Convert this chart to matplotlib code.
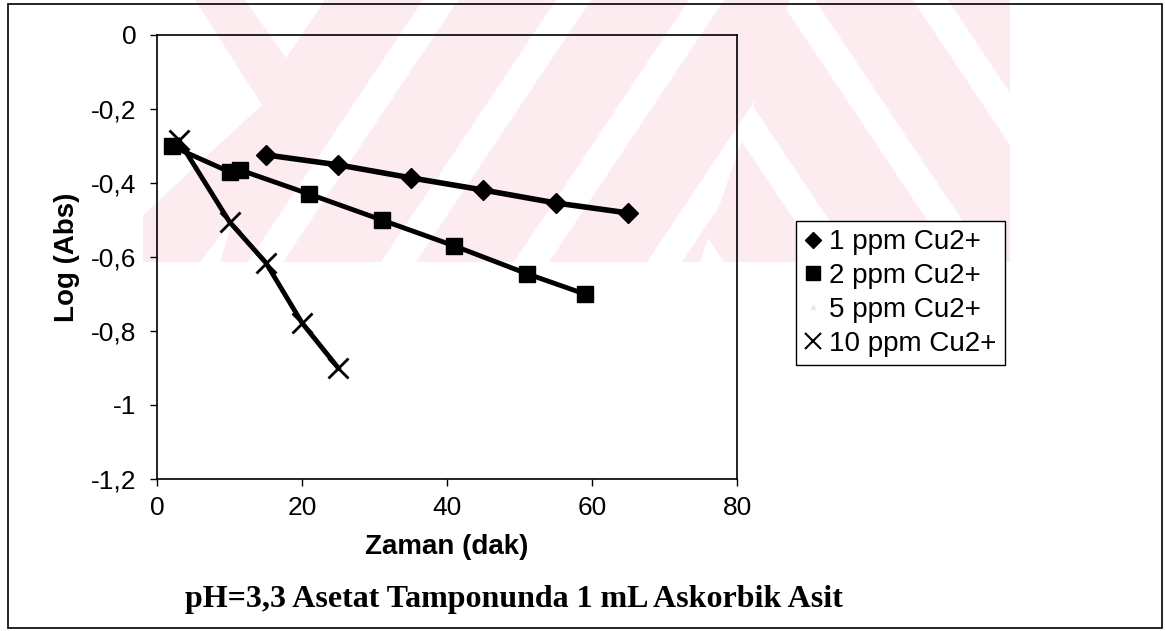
import matplotlib
matplotlib.use("Agg")
import matplotlib.pyplot as plt
from matplotlib.lines import Line2D
from matplotlib.patches import Rectangle, Polygon

# measured series (time in min, log absorbance)
t_1ppm = [15, 25, 35, 45, 55, 65]
abs_1ppm = [-0.324, -0.351, -0.386, -0.419, -0.454, -0.481]

t_2ppm = [2, 10, 11.5, 21, 31, 41, 51, 59]
abs_2ppm = [-0.30, -0.37, -0.365, -0.43, -0.50, -0.57, -0.645, -0.70]

t_5ppm = []
abs_5ppm = []

t_10ppm = [3, 10, 15, 20, 25]
abs_10ppm = [-0.285, -0.505, -0.615, -0.778, -0.90]

labels = ["1 ppm Cu2+", "2 ppm Cu2+", "5 ppm Cu2+", "10 ppm Cu2+"]
xticks = [0, 20, 40, 60, 80]
yticks = [0, -0.2, -0.4, -0.6, -0.8, -1, -1.2]
ytick_labels = ["0", "-0,2", "-0,4", "-0,6", "-0,8", "-1", "-1,2"]

plt.rcParams['font.family'] = ['Liberation Sans', 'DejaVu Sans']

W, H = 1165, 631
fig = plt.figure(figsize=(W / 100, H / 100), dpi=100)

# faint pink scan watermark behind the chart (pixel coords)
bg = fig.add_axes([0, 0, 1, 1], zorder=-1)
bg.set_xlim(0, W)
bg.set_ylim(H, 0)
bg.axis('off')
pink = '#fdecef'
mid = Polygon([(300, 0), (790, 0), (700, 262), (220, 262)], transform=bg.transData)
right = Polygon([(790, 0), (1010, 0), (1010, 262), (700, 262)], transform=bg.transData)
left = Polygon([(190, 0), (300, 0), (220, 262), (143, 262), (143, 210)],
               transform=bg.transData)
for k in range(-3, 9):
    a = 150 + k * 133
    p = Polygon([(a, 262), (a + 98, 262), (a + 273, 0), (a + 175, 0)],
                facecolor=pink, edgecolor='none')
    bg.add_patch(p)
    p.set_clip_path(mid)
    q = Polygon([(a + 175, 262), (a + 273, 262), (a + 98, 0), (a, 0)],
                facecolor=pink, edgecolor='none')
    bg.add_patch(q)
    q.set_clip_path(right)
lp = Polygon([(195, 0), (245, 0), (320, 105), (200, 262), (143, 262), (143, 215), (262, 105)],
             facecolor=pink, edgecolor='none')
bg.add_patch(lp)

ax = fig.add_axes([157 / W, 1 - 479 / H, 580 / W, 444 / H])
ax.patch.set_alpha(0)

ax.plot(t_1ppm, abs_1ppm, color='black', lw=4, marker='D', ms=10, zorder=3)
ax.plot(t_2ppm, abs_2ppm, color='black', lw=3.5, marker='s', ms=11, zorder=3)
ax.plot(t_5ppm, abs_5ppm, color='#e6e6e6', lw=1, marker='^', ms=4)
ax.plot(t_10ppm, abs_10ppm, color='black', lw=3.5, marker='x', ms=14, mew=2, zorder=4)

ax.set_xlim(0, 80)
ax.set_ylim(-1.2, 0)
ax.set_xticks(xticks)
ax.set_yticks(yticks)
ax.set_yticklabels(ytick_labels)
ax.tick_params(labelsize=19, length=5, width=1, direction='out', pad=7)
ax.tick_params(axis='y', pad=10)
for s in ax.spines.values():
    s.set_linewidth(1.2)

ax.set_xlabel("Zaman (dak)", fontsize=20, fontweight='bold', labelpad=10)
ax.set_ylabel("Log (Abs)", fontsize=20, fontweight='bold', labelpad=8)

handles = [
    Line2D([], [], color='black', ls='none', marker='D', ms=8),
    Line2D([], [], color='black', ls='none', marker='s', ms=10),
    Line2D([], [], color='#e6e6e6', ls='none', marker='^', ms=3),
    Line2D([], [], color='black', ls='none', marker='x', ms=11, mew=1.5),
]
leg = fig.legend(handles, labels, loc='upper left',
                 bbox_to_anchor=(782 / W, 1 - 207 / H), frameon=True,
                 fancybox=False, edgecolor='black', framealpha=1,
                 handlelength=0.6, handletextpad=0.3, borderpad=0.3,
                 labelspacing=0.28, fontsize=20)
leg.get_frame().set_linewidth(1)

fig.text(514 / W, 1 - 600 / H, "pH=3,3 Asetat Tamponunda 1 mL Askorbik Asit",
         ha='center', va='center', fontsize=23, fontweight='bold',
         family=['Liberation Serif', 'DejaVu Serif'])

fig.patches.append(Rectangle((8 / W, 3 / H), 1154 / W, 624 / H,
                             transform=fig.transFigure, fill=False,
                             edgecolor='black', lw=1.2))

fig.savefig("out.png", dpi=100)
